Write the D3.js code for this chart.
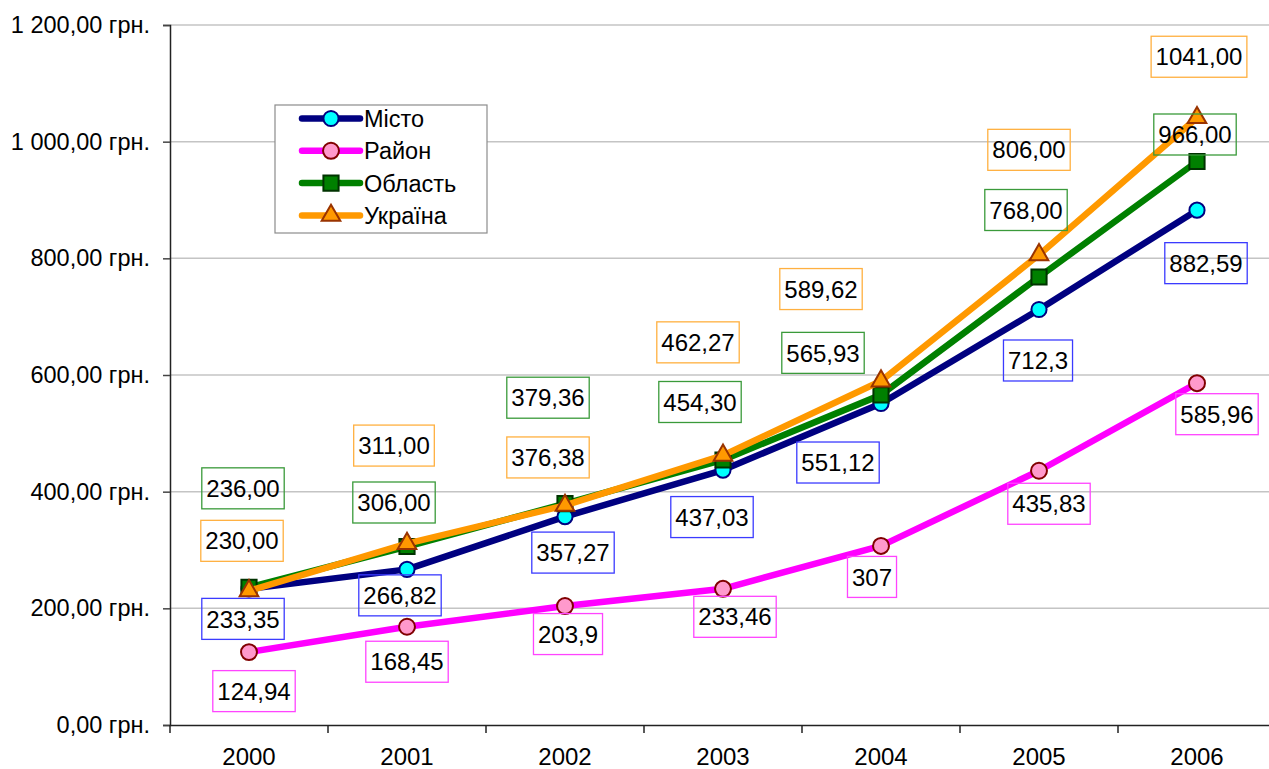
<!DOCTYPE html>
<html>
<head>
<meta charset="utf-8">
<script src="https://cdn.jsdelivr.net/npm/d3@7/dist/d3.min.js"></script>
<style>
  body { margin: 0; background: #fff; }
  svg { display: block; font-family: Arial, "Liberation Sans", sans-serif; }
</style>
</head>
<body>
<script>
// chart data
var years = ['2000', '2001', '2002', '2003', '2004', '2005', '2006'];
var misto = [233.35, 266.82, 357.27, 437.03, 551.12, 712.3, 882.59];
var raion = [124.94, 168.45, 203.9, 233.46, 307, 435.83, 585.96];
var oblast = [236.00, 306.00, 379.36, 454.30, 565.93, 768.00, 966.00];
var ukraina = [230.00, 311.00, 376.38, 462.27, 589.62, 806.00, 1041.00];
var seriesNames = ['Місто', 'Район', 'Область', 'Україна'];
var yTicks = [0, 200, 400, 600, 800, 1000, 1200];

var width = 1269, height = 769;
var plot = {left: 170, right: 1276, top: 25, bottom: 725};

var loc = d3.formatLocale({decimal: ',', thousands: ' ', grouping: [3], currency: ['', ' грн.']});
var fmtMoney = loc.format('$,.2f');
var fmtFixed = loc.format('.2f');
var fmtGeneral = function(v) { return loc.format('.2~f')(v); };

// hand-placed data label nudges (pixels from the point), as in the original
var nudges = [
  [[-6, 30], [-7, 26], [8, 36], [-11, 47], [-43, 59], [-1, 51], [9, 53]],
  [[5, 39], [0, 35], [3, 28], [12, 28], [-9, 31], [10, 33], [20, 31]],
  [[-6, -99], [-13, -44], [-17, -106], [-23, -58], [-58, -42], [-13, -67], [-2, -27]],
  [[-7, -50], [-13, -98], [-17, -48], [-25, -113], [-60, -92], [-10, -105], [2, -61]]
];

var series = [
  {name: seriesNames[0], values: misto, line: '#000080', fill: '#00ffff', stroke: '#000080', box: '#3b3bff', shape: d3.symbolCircle, size: 180, fmt: fmtGeneral},
  {name: seriesNames[1], values: raion, line: '#ff00ff', fill: '#ff99cc', stroke: '#800000', box: '#ff44ff', shape: d3.symbolCircle, size: 200, fmt: fmtGeneral},
  {name: seriesNames[2], values: oblast, line: '#008000', fill: '#008000', stroke: '#003300', box: '#3a9a3a', shape: d3.symbolSquare, size: 230, fmt: fmtFixed},
  {name: seriesNames[3], values: ukraina, line: '#ff9900', fill: '#ff9900', stroke: '#993300', box: '#ffb040', shape: d3.symbolTriangle, size: 150, fmt: fmtFixed}
];

var svg = d3.select('body').append('svg')
  .attr('width', width)
  .attr('height', height);

var x = d3.scaleBand()
  .domain(years)
  .range([plot.left, plot.right])
  .padding(0);

var y = d3.scaleLinear()
  .domain([0, 1200])
  .range([plot.bottom, plot.top]);

// gridlines
svg.append('g')
  .selectAll('line')
  .data(yTicks.slice(1))
  .enter().append('line')
  .attr('x1', plot.left).attr('x2', width)
  .attr('y1', function(d) { return y(d); })
  .attr('y2', function(d) { return y(d); })
  .attr('stroke', '#c4c4c4')
  .attr('stroke-width', 1.5);

// y axis
var yAxis = d3.axisLeft(y)
  .tickValues(yTicks)
  .tickSize(7)
  .tickPadding(13)
  .tickFormat(fmtMoney);

var gy = svg.append('g')
  .attr('transform', 'translate(' + plot.left + ',0)')
  .call(yAxis);
gy.select('.domain').attr('stroke', '#222').attr('stroke-width', 1.5);
gy.selectAll('.tick line').attr('stroke', '#444').attr('stroke-width', 1.5);
gy.selectAll('.tick text').attr('font-size', 23.5).attr('fill', '#000')
  .attr('font-family', 'Arial, "Liberation Sans", sans-serif');

// x axis
var xAxis = d3.axisBottom(x)
  .tickSize(0)
  .tickPadding(23)
  .tickFormat(function(d) { return d; });

var gx = svg.append('g')
  .attr('transform', 'translate(0,' + plot.bottom + ')')
  .call(xAxis);
gx.select('.domain').attr('stroke', '#222').attr('stroke-width', 1.5);
gx.selectAll('.tick text').attr('font-size', 24).attr('fill', '#000')
  .attr('font-family', 'Arial, "Liberation Sans", sans-serif');

// x boundary ticks between categories
gx.selectAll('.bound')
  .data(years)
  .enter().append('line')
  .attr('class', 'bound')
  .attr('x1', function(d) { return x(d); })
  .attr('x2', function(d) { return x(d); })
  .attr('y1', 0).attr('y2', 8)
  .attr('stroke', '#222')
  .attr('stroke-width', 1.5);

var cx = function(i) { return x(years[i]) + x.bandwidth() / 2; };

var line = d3.line()
  .x(function(d, i) { return cx(i); })
  .y(function(d) { return y(d); });

// lines and markers, series by series
series.forEach(function(s) {
  var g = svg.append('g');
  g.append('path')
    .datum(s.values)
    .attr('d', line)
    .attr('fill', 'none')
    .attr('stroke', s.line)
    .attr('stroke-width', 6.5)
    .attr('stroke-linejoin', 'round')
    .attr('stroke-linecap', 'round');

  g.selectAll('.mk')
    .data(s.values)
    .enter().append('path')
    .attr('class', 'mk')
    .attr('d', d3.symbol().type(s.shape).size(s.size))
    .attr('transform', function(d, i) { return 'translate(' + cx(i) + ',' + y(d) + ')'; })
    .attr('fill', s.fill)
    .attr('stroke', s.stroke)
    .attr('stroke-width', 2);
});

// data labels
series.forEach(function(s, si) {
  var g = svg.append('g');
  s.values.forEach(function(v, i) {
    var px = cx(i) + nudges[si][i][0];
    var py = y(v) + nudges[si][i][1];
    var t = g.append('text')
      .attr('x', px)
      .attr('y', py)
      .attr('text-anchor', 'middle')
      .attr('dy', '0.36em')
      .attr('font-size', 24)
      .attr('fill', '#000')
      .text(s.fmt(v));
    var w = t.node().getComputedTextLength() + 9;
    g.insert('rect', 'text')
      .attr('x', px - w / 2)
      .attr('y', py - 20.5)
      .attr('width', w)
      .attr('height', 41)
      .attr('fill', 'none')
      .attr('stroke', s.box)
      .attr('stroke-width', 1.3);
  });
});

// legend
var legend = svg.append('g').attr('transform', 'translate(275,105)');
legend.append('rect')
  .attr('width', 212).attr('height', 128)
  .attr('fill', '#fff')
  .attr('stroke', '#8c8c8c')
  .attr('stroke-width', 1.2);

var items = legend.selectAll('.item')
  .data(series)
  .enter().append('g')
  .attr('class', 'item')
  .attr('transform', function(d, i) { return 'translate(0,' + (13.5 + i * 32.3) + ')'; });

items.append('line')
  .attr('x1', 27).attr('x2', 85)
  .attr('stroke', function(d) { return d.line; })
  .attr('stroke-width', 6.5)
  .attr('stroke-linecap', 'round');

items.append('path')
  .attr('d', function(d) { return d3.symbol().type(d.shape).size(d.size)(); })
  .attr('transform', 'translate(56,0)')
  .attr('fill', function(d) { return d.fill; })
  .attr('stroke', function(d) { return d.stroke; })
  .attr('stroke-width', 2);

items.append('text')
  .attr('x', 89)
  .attr('dy', '0.36em')
  .attr('font-size', 23.5)
  .attr('fill', '#000')
  .text(function(d) { return d.name; });
</script>
</body>
</html>
